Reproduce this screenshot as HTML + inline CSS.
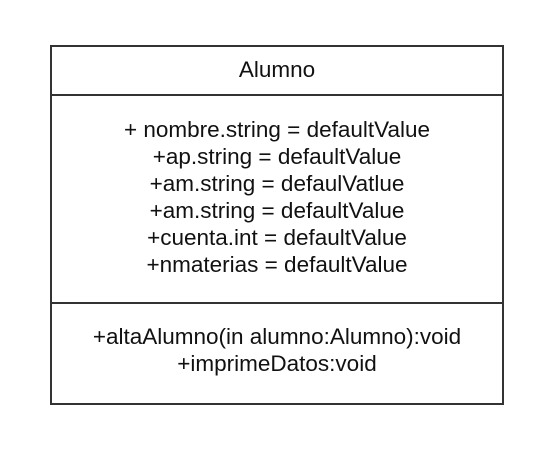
<!DOCTYPE html>
<html><head><style>
body{margin:0;width:553px;height:450px;background:#fff;position:relative;font-family:"Liberation Sans",sans-serif;color:#111;}
.box{position:absolute;left:50px;top:45px;width:450px;height:356px;border:2px solid #333;}
.hl{position:absolute;left:0;width:450px;height:0;border-top:2px solid #333;}
.t{position:absolute;left:-20px;width:490px;text-align:center;font-size:22.5px;line-height:27px;}
</style></head><body>
<div class="box">
<div class="hl" style="top:47px"></div>
<div class="hl" style="top:255px"></div>
<div class="t" style="top:9px">Alumno</div>
<div class="t" style="top:69px">+ nombre.string = defaultValue<br>+ap.string = defaultValue<br>+am.string = defaulVatlue<br>+am.string = defaultValue<br>+cuenta.int = defaultValue<br>+nmaterias = defaultValue</div>
<div class="t" style="top:276px">+altaAlumno(in alumno:Alumno):void<br>+imprimeDatos:void</div>
</div>
</body></html>
